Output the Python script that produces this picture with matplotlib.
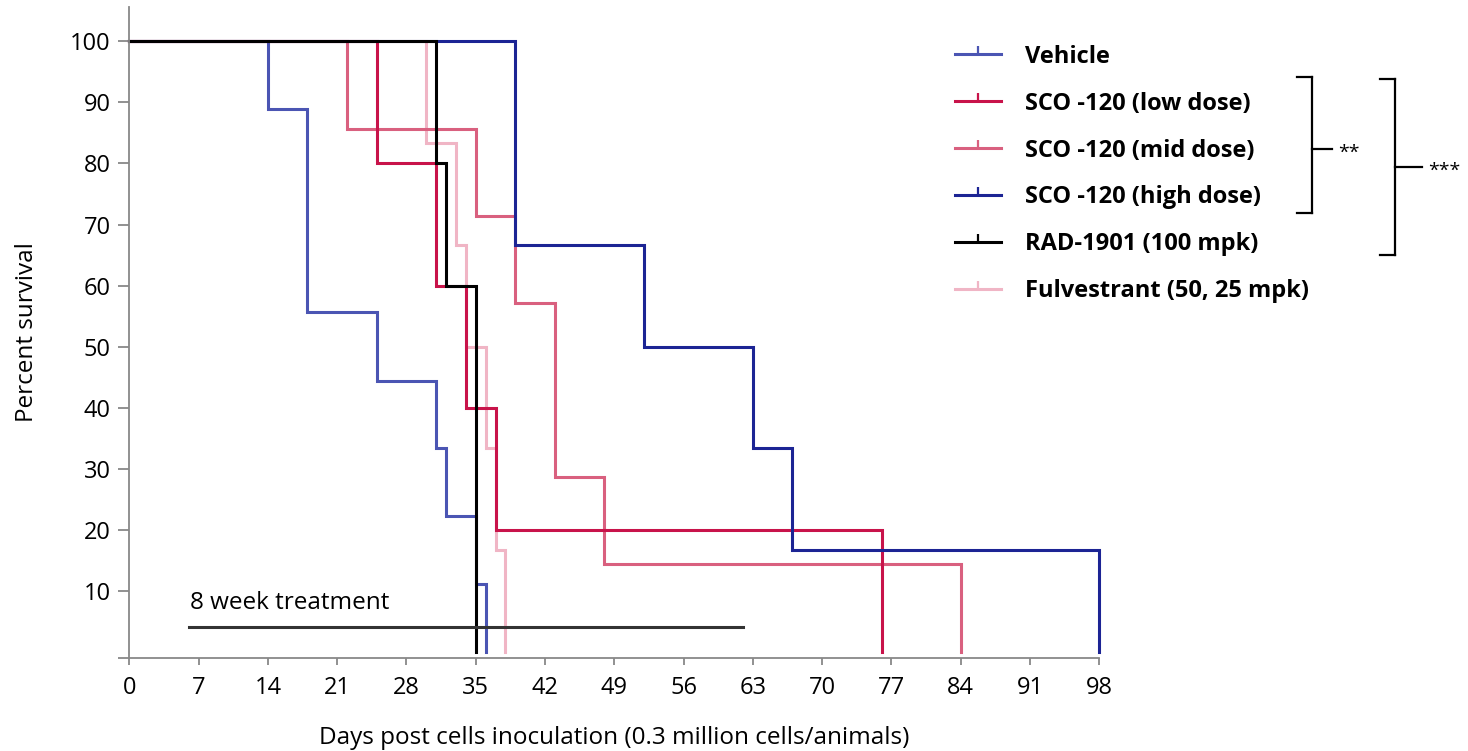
import matplotlib.pyplot as plt
from matplotlib.lines import Line2D

plt.rcParams['font.family'] = ['Open Sans', 'DejaVu Sans']

# Kaplan-Meier steps (day of event, percent survival after it)
vehicle_days = [0, 14, 18, 25, 31, 32, 35, 36]
vehicle_surv = [100, 88.9, 55.6, 44.4, 33.3, 22.2, 11.1, 0]

low_days = [0, 25, 31, 34, 37, 76]
low_surv = [100, 80, 60, 40, 20, 0]

mid_days = [0, 22, 35, 39, 43, 48, 84]
mid_surv = [100, 85.7, 71.4, 57.1, 28.6, 14.3, 0]

high_days = [0, 39, 52, 63, 67, 98]
high_surv = [100, 66.7, 50, 33.3, 16.7, 0]

rad_days = [0, 31, 32, 35]
rad_surv = [100, 80, 60, 0]

fulv_days = [0, 30, 33, 34, 36, 37, 38]
fulv_surv = [100, 83.3, 66.7, 50, 33.3, 16.7, 0]

labels = ['Vehicle', 'SCO -120 (low dose)', 'SCO -120 (mid dose)',
          'SCO -120 (high dose)', 'RAD-1901 (100 mpk)', 'Fulvestrant (50, 25 mpk)']
colors = ['#4b55b3', '#c8134a', '#d9607f', '#1c2494', '#000000', '#f0b5c5']

treat_days = [6, 62]
treat_level = 4

x_ticks = list(range(0, 99, 7))
y_ticks = [-1, 10, 20, 30, 40, 50, 60, 70, 80, 90, 100]
y_ticklabels = [''] + [str(v) for v in y_ticks[1:]]

fig = plt.figure(figsize=(14.68, 7.51), dpi=100)
ax = fig.add_axes([0.0881, 0.1242, 0.6607, 0.8661])

series = [(vehicle_days, vehicle_surv), (low_days, low_surv), (mid_days, mid_surv),
          (high_days, high_surv), (rad_days, rad_surv), (fulv_days, fulv_surv)]
order = [0, 5, 2, 1, 3, 4]
for i in order:
    d, s = series[i]
    ax.step(d, s, where='post', color=colors[i], lw=2.2, solid_joinstyle='miter', clip_on=False)

# treatment bar
ax.plot(treat_days, [treat_level, treat_level], color='#333333', lw=2.2)
ax.text(treat_days[0] + 0.1, treat_level + 2.0, '8 week treatment', fontsize=17.5, va='bottom')

ax.set_xlim(0, 98)
ax.set_ylim(-1, 105.6)
ax.set_xticks(x_ticks)
ax.set_yticks(y_ticks)
ax.set_yticklabels(y_ticklabels)
ax.tick_params(axis='both', labelsize=17, color='#888888', width=1.3)
ax.tick_params(axis='x', length=5, pad=8)
ax.tick_params(axis='y', length=8, pad=5.5)
for side in ['top', 'right']:
    ax.spines[side].set_visible(False)
for side in ['left', 'bottom']:
    ax.spines[side].set_color('#888888')
    ax.spines[side].set_linewidth(1.3)

ax.set_xlabel('Days post cells inoculation (0.3 million cells/animals)', fontsize=17.5, labelpad=19)
ax.set_ylabel('Percent survival', fontsize=17.5, labelpad=22)

handles = [Line2D([0], [0], color=c, lw=2.2, marker=2, markersize=6, markeredgewidth=1.6)
           for c in colors]
fig.legend(handles, labels, loc='upper left', bbox_to_anchor=(0.6441, 0.953),
           frameon=False, borderaxespad=0, handlelength=1.95, handletextpad=1.02,
           labelspacing=0.97, prop={'size': 17, 'weight': 'bold'})

# significance brackets (figure pixels -> fraction)
W, H = 1468.0, 751.0


def bracket(x_tip, x_bar, x_stem, y_top, y_bot, y_mid, star):
    for xs, ys in [([x_tip, x_bar], [y_top, y_top]), ([x_bar, x_bar], [y_top, y_bot]),
                   ([x_tip, x_bar], [y_bot, y_bot]), ([x_bar, x_stem], [y_mid, y_mid])]:
        fig.add_artist(Line2D([x / W for x in xs], [1 - y / H for y in ys],
                              color='black', lw=1.6, transform=fig.transFigure))
    fig.text((x_stem + 6) / W, 1 - (y_mid + 4) / H, star, fontsize=14, va='center', ha='left')


bracket(1297, 1312, 1332, 77, 213, 149, '**')
bracket(1380, 1395, 1422, 79, 255, 167, '***')

fig.savefig('out.png', dpi=100)
